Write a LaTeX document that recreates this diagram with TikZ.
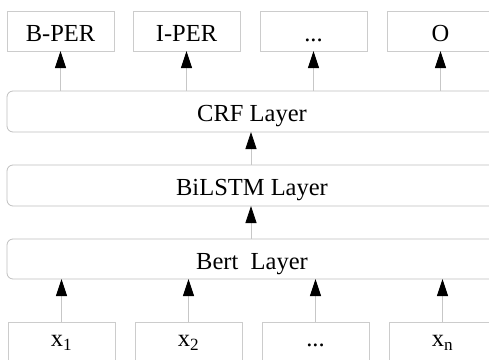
\documentclass[tikz,border=0pt]{standalone}
\usepackage{fontspec}
\setmainfont{Liberation Serif}
\usetikzlibrary{arrows.meta}
\begin{document}
\begin{tikzpicture}[x=1pt,y=-1pt,
  lbl/.style={draw=black!20,line width=0.8pt,minimum width=107pt,minimum height=40pt,inner sep=0pt,outer sep=0pt,font=\fontsize{24.5}{28}\selectfont,text height=22pt,text depth=1pt},
  inp/.style={lbl,text height=11pt,text depth=1.5pt},
  layer/.style={draw=black!25,line width=0.8pt,rounded corners=6pt,minimum width=490pt,minimum height=41pt,inner sep=0pt,outer sep=0pt,font=\fontsize{24.5}{28}\selectfont,text height=21pt,text depth=0.6pt},
  arr/.style={draw=black!22,line width=0.8pt,-{Triangle[width=11pt,length=17pt,black]}}]
\useasboundingbox (0,0) rectangle (489,359);
\clip (0,0) rectangle (489,359);
% top labels
\node[lbl] (o1) at (60.5,31) {B-PER};
\node[lbl] (o2) at (186.5,31) {I-PER};
\node[lbl] (o3) at (313.5,31) {...};
\node[lbl] (o4) at (440.5,31) {O};
% layers
\node[layer] (crf) at (252,111.5) {CRF Layer};
\node[layer] (bilstm) at (252,185.5) {BiLSTM Layer};
\node[layer,minimum height=40pt] (bert) at (252,259) {Bert\ \ Layer};
% inputs
\node[inp] (i1) at (61.5,342) {x\textsubscript{1}};
\node[inp] (i2) at (188.5,342) {x\textsubscript{2}};
\node[inp] (i3) at (315.5,342) {...};
\node[inp] (i4) at (442.5,342) {x\textsubscript{n}};
% arrows
\foreach \k in {1,2,3,4}{
  \draw[arr] (crf.north -| o\k.south) -- (o\k.south);
  \draw[arr] (i\k.north) -- (bert.south -| i\k.north);
}
\coordinate (m1) at (251,0);
\draw[arr] (bilstm.north -| m1) -- (crf.south -| m1);
\draw[arr] (bert.north -| m1) -- (bilstm.south -| m1);
\end{tikzpicture}
\end{document}
